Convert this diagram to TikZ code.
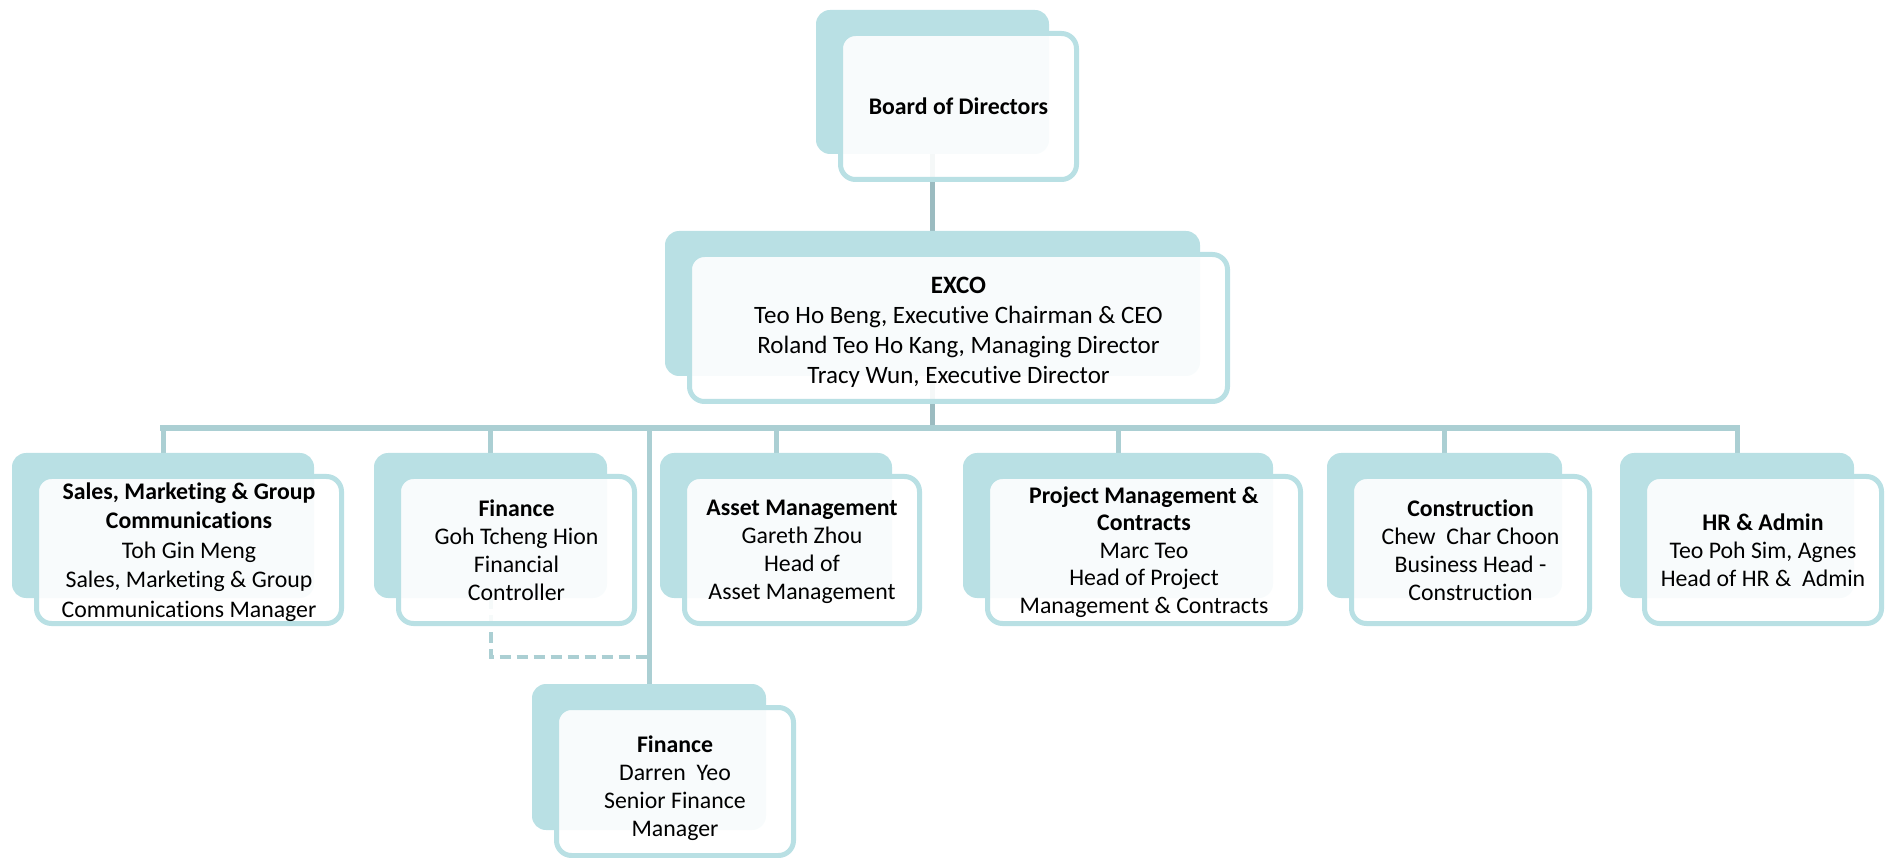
\documentclass[tikz,border=0pt]{standalone}
\usepackage{fontspec}
\setmainfont{Carlito}[Ligatures={NoCommon,NoRare,NoContextual}]
\pgfdeclarelayer{bg}
\pgfsetlayers{bg,main}
\definecolor{tealfill}{HTML}{B9E0E4}
\definecolor{linec}{HTML}{ABCFD3}
\definecolor{linedark}{HTML}{9BBBC0}
\newcommand\orgrowfont{\fontsize{23.8}{28}\selectfont}
\newcommand\orgexcofont{\fontsize{25}{30}\selectfont}
\tikzset{
  backbox/.style={fill=tealfill, rounded corners=14pt, inner sep=0pt, outer sep=0pt},
  frontbox/.style={draw=tealfill, line width=5pt, fill=white, fill opacity=0.9, text opacity=1,
    rounded corners=15pt, inner sep=0pt, outer sep=0pt, align=center, font=\orgrowfont, text depth=0pt},
  busline/.style={draw=linec, line width=6pt},
  dropline/.style={draw=linec, line width=5pt},
  topline/.style={draw=linedark, line width=5pt},
  dashline/.style={draw=linec, line width=4pt, dash pattern=on 11pt off 6pt},
}
% #1 name, #2 x1, #3 y1, #4 x2, #5 y2 (back box), #6 text, #7 extra style
\newcommand\orgunit[7]{%
  \node[backbox, minimum width={#4-#2}, minimum height={#5-#3}] (#1b) at ({(#2+#4)/2},{(#3+#5)/2}) {};
  \node[frontbox, minimum width={#4-#2+3}, minimum height={#5-#3+2}, #7] (#1) at ({(#2+#4)/2+26},{(#3+#5)/2+24.5}) {#6};
}
\begin{document}
\begin{tikzpicture}[x=1pt, y=-1pt]
\useasboundingbox (0,0) rectangle (1891,858);

\orgunit{board}{816}{10}{1049}{154}{\textbf{Board of Directors}}{}
\orgunit{exco}{665}{231}{1200}{376}{\rule{0pt}{22pt}\textbf{EXCO}\\Teo Ho Beng, Executive Chairman \& CEO\\Roland Teo Ho Kang, Managing Director\\Tracy Wun, Executive Director}{font=\orgexcofont}
\orgunit{sales}{12}{453}{314}{598}{\textbf{Sales, Marketing \& Group}\\\textbf{Communications}\\Toh Gin Meng\\Sales, Marketing \& Group\\Communications Manager}{font=\fontsize{23.8}{29.5}\selectfont}
\orgunit{fin}{374}{453}{607}{598}{\textbf{Finance}\\Goh Tcheng Hion\\Financial\\Controller}{}
\orgunit{asset}{660}{453}{892}{598}{\textbf{Asset Management}\\Gareth Zhou\\Head of\\Asset Management}{}
\orgunit{pm}{963}{453}{1273}{598}{\textbf{Project Management \&}\\\textbf{Contracts}\\Marc Teo\\Head of Project\\Management \& Contracts}{font=\fontsize{23.8}{27.5}\selectfont}
\orgunit{con}{1327}{453}{1562}{598}{\textbf{Construction}\\Chew\ \ Char Choon\\Business Head -\\Construction}{}
\orgunit{hr}{1620}{453}{1854}{598}{\textbf{HR \& Admin}\\Teo Poh Sim, Agnes\\Head of HR \&\ \ Admin}{}
\orgunit{fintwo}{532}{684}{766}{830}{\rule{0pt}{25pt}\textbf{Finance}\\Darren\ \ Yeo\\Senior Finance\\Manager}{font=\fontsize{23.8}{28}\selectfont}

\coordinate (busy) at (0,428);
\coordinate (dashy) at (0,657);

\begin{pgfonlayer}{bg}
  \draw[topline] (boardb.south) -- (excob.north);
  \draw[topline] (excob.south) -- (excob.south |- busy);
  \draw[busline] ([xshift=-3pt]salesb.north |- busy) -- ([xshift=3pt]hrb.north |- busy);
  \foreach \n in {sales,fin,asset,pm,con,hr}{
    \draw[dropline] (\n b.north |- busy) -- (\n b.north);
  }
  \draw[dropline] (fintwob.north |- busy) -- (fintwob.north);
  \draw[dashline] (finb.south) -- (finb.south |- dashy) -- (fintwob.north |- dashy);
\end{pgfonlayer}
\end{tikzpicture}
\end{document}
